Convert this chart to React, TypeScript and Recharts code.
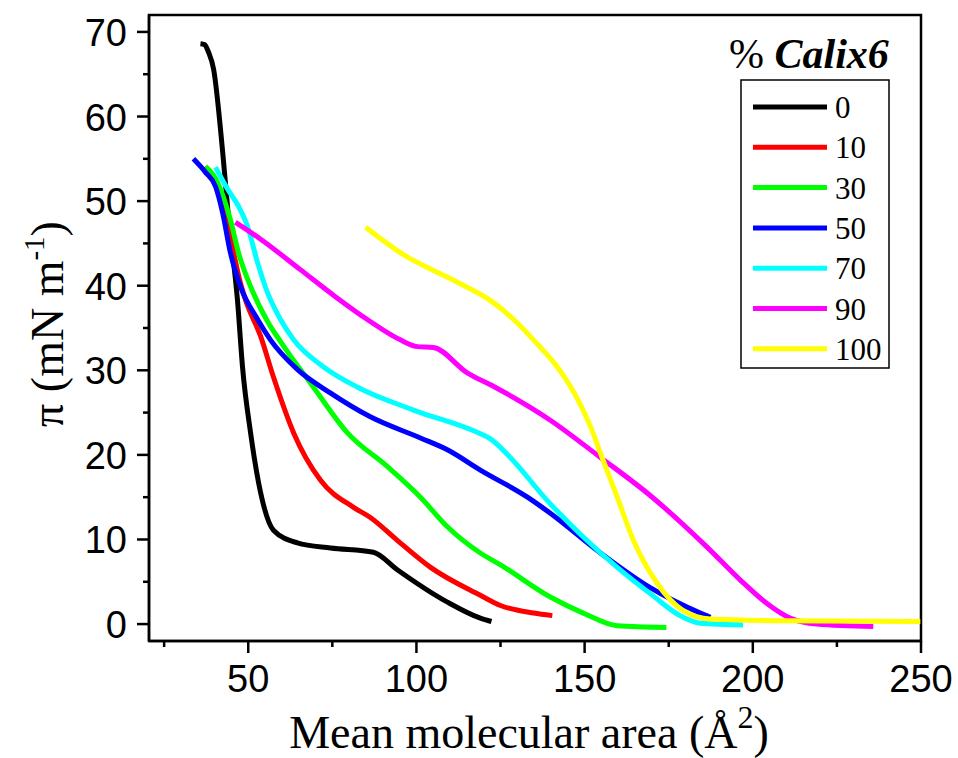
import React from 'react';
import { LineChart, Line, XAxis, YAxis, ReferenceArea, Legend } from 'recharts';

// Surface pressure isotherms: x = area (Å²), y = π (mN/m)
const calix0 = [
    { x: 35.8, y: 68.6 }, { x: 37.0, y: 68.5 }, { x: 38.2, y: 67.6 }, { x: 39.7, y: 65.6 },
    { x: 42.4, y: 55.8 }, { x: 44.2, y: 47.8 }, { x: 46.8, y: 38.3 }, { x: 48.3, y: 30.4 },
    { x: 50.7, y: 22.6 }, { x: 53.7, y: 15.5 }, { x: 57.5, y: 11.1 }, { x: 64.6, y: 9.6 },
    { x: 74.5, y: 9.0 }, { x: 87.2, y: 8.5 }, { x: 94.4, y: 6.4 }, { x: 109.2, y: 2.6 },
    { x: 119.0, y: 0.7 }, { x: 122.3, y: 0.3 }
];
const calix10 = [
    { x: 37.0, y: 54.0 }, { x: 41.0, y: 51.5 }, { x: 44.5, y: 46.0 }, { x: 47.7, y: 40.3 },
    { x: 49.2, y: 38.3 }, { x: 53.7, y: 34.0 }, { x: 57.5, y: 29.2 }, { x: 63.5, y: 22.6 },
    { x: 71.5, y: 17.0 }, { x: 81.3, y: 13.8 }, { x: 86.3, y: 12.6 }, { x: 94.3, y: 9.9 },
    { x: 104.2, y: 6.7 }, { x: 119.0, y: 3.4 }, { x: 125.0, y: 2.2 }, { x: 134.8, y: 1.3 },
    { x: 140.4, y: 1.0 }
];
const calix30 = [
    { x: 37.3, y: 54.1 }, { x: 40.9, y: 52.2 }, { x: 44.7, y: 47.8 }, { x: 47.1, y: 43.9 },
    { x: 50.7, y: 39.9 }, { x: 55.7, y: 35.8 }, { x: 59.6, y: 33.4 }, { x: 69.4, y: 28.0 },
    { x: 79.5, y: 22.6 }, { x: 91.4, y: 18.6 }, { x: 101.2, y: 15.0 }, { x: 109.2, y: 11.5 },
    { x: 119.0, y: 8.4 }, { x: 125.0, y: 7.0 }, { x: 139.8, y: 3.2 }, { x: 149.6, y: 1.3 },
    { x: 159.7, y: -0.2 }, { x: 174.3, y: -0.4 }
];
const calix50 = [
    { x: 33.7, y: 55.0 }, { x: 37.3, y: 53.4 }, { x: 40.3, y: 51.7 }, { x: 42.4, y: 48.6 },
    { x: 44.7, y: 43.9 }, { x: 47.7, y: 39.9 }, { x: 52.8, y: 36.0 }, { x: 56.6, y: 33.6 },
    { x: 64.6, y: 30.1 }, { x: 74.5, y: 27.3 }, { x: 86.3, y: 24.5 }, { x: 101.2, y: 22.0 },
    { x: 109.2, y: 20.6 }, { x: 119.0, y: 18.2 }, { x: 133.0, y: 15.0 }, { x: 139.8, y: 13.1 },
    { x: 154.7, y: 8.4 }, { x: 169.5, y: 4.3 }, { x: 184.4, y: 1.3 }, { x: 187.4, y: 0.8 }
];
const calix70 = [
    { x: 40.3, y: 54.0 }, { x: 43.9, y: 51.4 }, { x: 47.1, y: 49.4 }, { x: 49.8, y: 47.0 },
    { x: 52.8, y: 42.7 }, { x: 55.7, y: 39.2 }, { x: 59.6, y: 36.0 }, { x: 63.5, y: 33.6 },
    { x: 72.4, y: 30.4 }, { x: 82.5, y: 28.0 }, { x: 99.1, y: 25.3 }, { x: 119.0, y: 22.5 },
    { x: 122.0, y: 21.9 }, { x: 127.9, y: 19.7 }, { x: 138.9, y: 14.6 }, { x: 149.6, y: 10.3 },
    { x: 159.7, y: 6.7 }, { x: 169.5, y: 3.6 }, { x: 179.3, y: 0.8 }, { x: 184.4, y: 0.1 },
    { x: 197.1, y: -0.1 }
];
const calix90 = [
    { x: 46.2, y: 47.5 }, { x: 53.7, y: 45.5 }, { x: 65.5, y: 41.9 }, { x: 75.9, y: 38.7 },
    { x: 85.4, y: 36.0 }, { x: 95.2, y: 33.6 }, { x: 100.3, y: 32.8 }, { x: 105.0, y: 32.7 },
    { x: 115.1, y: 29.7 }, { x: 123.4, y: 28.0 }, { x: 139.8, y: 24.1 }, { x: 154.7, y: 19.7 },
    { x: 169.5, y: 15.2 }, { x: 186.4, y: 9.1 }, { x: 196.3, y: 5.2 }, { x: 204.3, y: 2.4 },
    { x: 211.1, y: 0.7 }, { x: 219.1, y: 0.0 }, { x: 235.8, y: -0.3 }
];
const calix100 = [
    { x: 84.9, y: 46.9 }, { x: 95.2, y: 43.9 }, { x: 112.2, y: 40.4 }, { x: 122.9, y: 38.0 },
    { x: 130.0, y: 35.6 }, { x: 134.8, y: 33.6 }, { x: 142.8, y: 29.9 }, { x: 147.9, y: 26.6 },
    { x: 151.7, y: 23.4 }, { x: 154.7, y: 20.2 }, { x: 159.7, y: 15.0 }, { x: 164.5, y: 9.9 },
    { x: 171.6, y: 4.8 }, { x: 179.3, y: 1.6 }, { x: 187.4, y: 0.6 }, { x: 209.1, y: 0.4 },
    { x: 249.8, y: 0.3 }
];

const seriesLabels = ['0', '10', '30', '50', '70', '90', '100'];
const seriesColors = ['#000000', '#ff0000', '#00ff00', '#0000ff', '#00ffff', '#ff00ff', '#ffff00'];
const seriesData = [calix0, calix10, calix30, calix50, calix70, calix90, calix100];

const xTicks = [25, 50, 75, 100, 125, 150, 175, 200, 225, 250];
const yTicks = [0, 5, 10, 15, 20, 25, 30, 35, 40, 45, 50, 55, 60, 65, 70];

const SANS = '"Liberation Sans", Arial, sans-serif';
const SERIF = '"Liberation Serif", "Times New Roman", serif';

const XTick = (props: any) => {
    const { x, y, payload } = props;
    const major = payload.value % 50 === 0;
    return (
        <g>
            <line x1={x} x2={x} y1={y} y2={y + (major ? 12 : 6)} stroke="#000" strokeWidth={2.5} />
            {major && (
                <text x={x} y={y + 51} textAnchor="middle" fontFamily={SANS} fontSize={38} fill="#000">
                    {payload.value}
                </text>
            )}
        </g>
    );
};

const YTick = (props: any) => {
    const { x, y, payload } = props;
    const major = payload.value % 10 === 0;
    return (
        <g>
            <line x1={x - (major ? 12 : 6)} x2={x} y1={y} y2={y} stroke="#000" strokeWidth={2.5} />
            {major && (
                <text x={x - 22} y={y + 14} textAnchor="end" fontFamily={SANS} fontSize={38} fill="#000">
                    {payload.value}
                </text>
            )}
        </g>
    );
};

const LegendBox = () => (
    <svg width={958} height={758} style={{ position: 'absolute', left: 0, top: 0, pointerEvents: 'none' }}>
        <text x={729} y={68} fontFamily={SERIF} fontSize={42} fill="#000">
            %{' '}
            <tspan fontWeight="bold" fontStyle="italic">Calix6</tspan>
        </text>
        <rect x={741} y={80} width={148} height={288} fill="#fff" stroke="#000" strokeWidth={1.5} />
        {seriesLabels.map((label, i) => {
            const cy = 107 + i * 40.3;
            return (
                <g key={label}>
                    <line x1={753} x2={827} y1={cy} y2={cy} stroke={seriesColors[i]} strokeWidth={5} />
                    <text x={835} y={cy + 11} fontFamily={SERIF} fontSize={31} fill="#000">
                        {label}
                    </text>
                </g>
            );
        })}
    </svg>
);

export default function App() {
    return (
        <div style={{ position: 'absolute', left: 0, top: 0, width: 958, height: 758, background: '#fff' }}>
            <LineChart width={958} height={758} margin={{ top: 15, right: 37, bottom: 0, left: 0 }}>
                <XAxis
                    type="number"
                    dataKey="x"
                    domain={[20.5, 250]}
                    ticks={xTicks}
                    interval={0}
                    allowDataOverflow
                    height={117}
                    tickSize={0}
                    tickMargin={0}
                    tickLine={false}
                    tick={(p: any) => <XTick {...p} />}
                    axisLine={{ stroke: '#000', strokeWidth: 2.5 }}
                />
                <YAxis
                    type="number"
                    dataKey="y"
                    domain={[-2, 72]}
                    ticks={yTicks}
                    interval={0}
                    allowDataOverflow
                    width={149}
                    tickSize={0}
                    tickMargin={0}
                    tickLine={false}
                    tick={(p: any) => <YTick {...p} />}
                    axisLine={{ stroke: '#000', strokeWidth: 2.5 }}
                />
                <ReferenceArea x1={20.5} x2={250} y1={-2} y2={72} fill="none" stroke="#000" strokeWidth={2.5} />
                {seriesData.map((d, i) => (
                    <Line
                        key={seriesLabels[i]}
                        data={d}
                        dataKey="y"
                        name={seriesLabels[i]}
                        type="monotone"
                        stroke={seriesColors[i]}
                        strokeWidth={5}
                        dot={false}
                        activeDot={false}
                        isAnimationActive={false}
                    />
                ))}
                <Legend
                    layout="horizontal"
                    verticalAlign="middle"
                    align="center"
                    content={() => <LegendBox />}
                    wrapperStyle={{ position: 'absolute', left: 0, top: 0, width: 958, height: 758 }}
                />
            </LineChart>
            <svg width={958} height={758} style={{ position: 'absolute', left: 0, top: 0, pointerEvents: 'none' }}>
                <text
                    x={63}
                    y={324}
                    transform="rotate(-90, 63, 324)"
                    textAnchor="middle"
                    fontFamily={SERIF}
                    fontSize={46}
                    fill="#000"
                >
                    π (mN m
                    <tspan dy={-19} fontSize={29}>-1</tspan>
                    <tspan dy={19}>)</tspan>
                </text>
                <text x={529} y={748} textAnchor="middle" fontFamily={SERIF} fontSize={46} fill="#000">
                    Mean molecular area (Å
                    <tspan dy={-20} fontSize={32}>2</tspan>
                    <tspan dy={20}>)</tspan>
                </text>
            </svg>
        </div>
    );
}
